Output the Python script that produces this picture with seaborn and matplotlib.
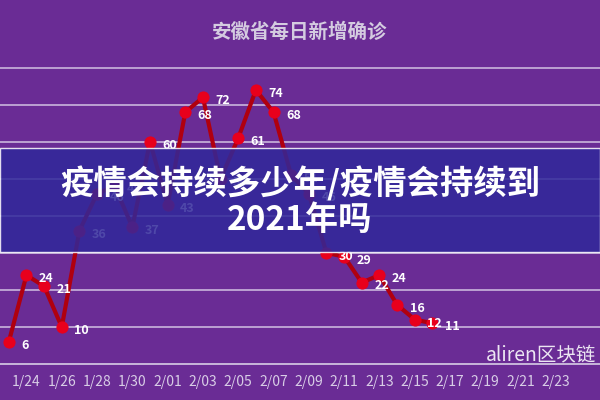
import pandas as pd
import matplotlib
matplotlib.use("Agg")
import matplotlib.pyplot as plt
import seaborn as sns
from matplotlib.patches import Rectangle

# данные: новые подтверждённые случаи по дням
dates = ["1/23", "1/24", "1/25", "1/26", "1/27", "1/28", "1/29", "1/30", "1/31",
         "2/01", "2/02", "2/03", "2/04", "2/05", "2/06", "2/07", "2/08", "2/09",
         "2/10", "2/11", "2/12", "2/13", "2/14", "2/15", "2/16"]
cases = [6, 24, 21, 10, 36, 46, 48, 37, 60, 43, 68, 72, 50, 61, 74, 68, 51, 46,
         30, 29, 22, 24, 16, 12, 11]
tick_labels = ["1/24", "1/26", "1/28", "1/30", "2/01", "2/03", "2/05", "2/07", "2/09",
               "2/11", "2/13", "2/15", "2/17", "2/19", "2/21", "2/23"]

BG = "#6a2c95"

sns.set_theme(style="white")
plt.rcParams["font.family"] = ["Noto Sans CJK SC", "DejaVu Sans"]

df = pd.DataFrame({"day": range(len(dates)), "cases": cases})

fig = plt.figure(figsize=(6, 4), dpi=100)
fig.patch.set_facecolor(BG)
ax = fig.add_axes([0, 0.09, 1, 0.835])
ax.set_facecolor(BG)

sns.lineplot(data=df, x="day", y="cases", ax=ax, color="#b0000f", linewidth=3,
             marker="o", markersize=8, markerfacecolor="#e8001c",
             markeredgecolor="#e8001c", zorder=3, clip_on=False)

for d, v in zip(df["day"], df["cases"]):
    ax.annotate(str(v), (d, v), xytext=(9, -5), textcoords="offset points",
                color="white", fontsize=9, fontweight="bold", zorder=4)

ax.set_xlim(0.6, 33.3)
ax.set_ylim(0, 90.2)
ax.set_yticks(range(10, 90, 10))
ax.yaxis.grid(True, color="#c9b6dc", linewidth=1.2)
ax.tick_params(axis="y", left=False, labelleft=False)
ax.set_xticks(range(1, 32, 2))
ax.set_xticklabels(tick_labels, color="#d8cde6", fontsize=10)
ax.set_xticks([x + 0.5 for x in range(-1, 34, 2)], minor=True)
ax.tick_params(axis="x", which="major", length=0, pad=8)
ax.tick_params(axis="x", which="minor", length=5, color="#d8cde6", width=1.2)
ax.set_xlabel("")
ax.set_ylabel("")
for s in ["top", "right", "left"]:
    ax.spines[s].set_visible(False)
ax.spines["bottom"].set_color("#d8cde6")
ax.spines["bottom"].set_linewidth(1.2)

fig.text(0.5, 0.92, "安徽省每日新增确诊", ha="center", va="center",
         color="#d4cbe0", fontsize=14, fontweight="bold")

# баннер поверх графика
fig.patches.append(Rectangle((0, 0.37), 1, 0.26, transform=fig.transFigure,
                             facecolor="#30289a", alpha=0.85, zorder=5))
fig.text(0.5, 0.54, "疫情会持续多少年/疫情会持续到", ha="center", va="center",
         color="white", fontsize=24, fontweight="bold", zorder=6)
fig.text(0.5, 0.45, "2021年吗", ha="center", va="center",
         color="white", fontsize=24, fontweight="bold", zorder=6)

fig.text(0.81, 0.113, "aliren区块链", ha="left", va="center",
         color="#ece6f2", fontsize=14, zorder=6)

fig.savefig("out.png", dpi=100, facecolor=BG)
